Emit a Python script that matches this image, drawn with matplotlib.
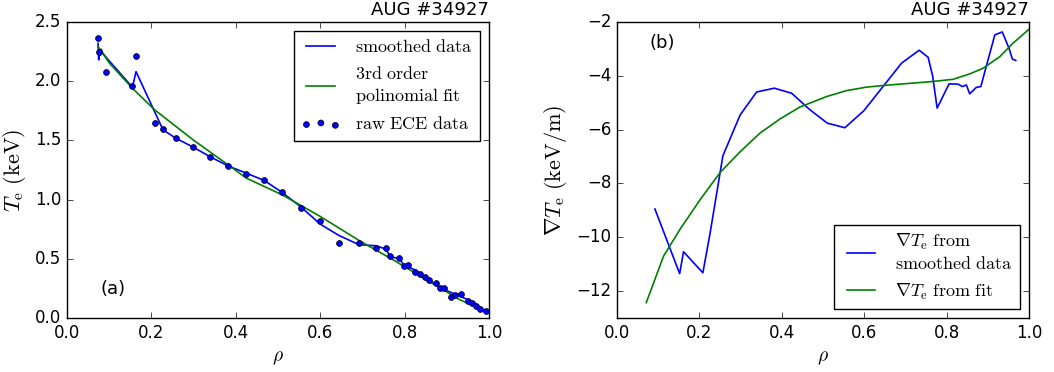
import matplotlib
matplotlib.use("Agg")
import matplotlib.pyplot as plt

plt.style.use("classic")
plt.rcParams["mathtext.fontset"] = "cm"
plt.rcParams["figure.facecolor"] = "white"
plt.rcParams["savefig.facecolor"] = "white"

# raw ECE profile
rho_raw = [0.0735, 0.076, 0.093, 0.155, 0.1635, 0.208, 0.2275, 0.258, 0.299, 0.340,
           0.3815, 0.425, 0.4676, 0.510, 0.555, 0.600, 0.6445, 0.692, 0.733, 0.755,
           0.765, 0.787, 0.798, 0.808, 0.824, 0.836, 0.848, 0.858, 0.874, 0.883,
           0.893, 0.911, 0.919, 0.934, 0.950, 0.960, 0.970, 0.9795, 0.992]
te_raw = [2.362, 2.244, 2.081, 1.96, 2.213, 1.651, 1.600, 1.518, 1.443, 1.358,
          1.285, 1.218, 1.167, 1.060, 0.928, 0.8155, 0.633, 0.633, 0.59, 0.59,
          0.52, 0.503, 0.436, 0.45, 0.385, 0.374, 0.346, 0.323, 0.295, 0.253,
          0.253, 0.174, 0.197, 0.205, 0.141, 0.127, 0.104, 0.076, 0.056]

# smoothed profile
rho_sm = [0.0735, 0.075, 0.077, 0.079, 0.081, 0.084, 0.093, 0.155, 0.1635, 0.2275,
          0.258, 0.299, 0.340, 0.3815, 0.425, 0.4676, 0.510, 0.555, 0.600, 0.6445,
          0.692, 0.733, 0.755, 0.767, 0.787, 0.800, 0.824, 0.848, 0.874, 0.895,
          0.922, 0.950, 0.974, 0.998]
te_sm = [2.32, 2.18, 2.26, 2.22, 2.27, 2.24, 2.20, 1.949, 2.081, 1.589,
         1.518, 1.443, 1.36, 1.285, 1.223, 1.161, 1.06, 0.936, 0.793, 0.697,
         0.619, 0.610, 0.582, 0.515, 0.503, 0.44, 0.408, 0.35, 0.281, 0.239,
         0.197, 0.155, 0.104, 0.042]

# cubic fit of the profile
rho_fit = [0.0735, 0.101, 0.155, 0.208, 0.299, 0.3815, 0.425, 0.510, 0.600, 0.692,
           0.7725, 0.8515, 0.9305, 1.0]
te_fit = [2.292, 2.15, 1.94, 1.757, 1.504, 1.294, 1.181, 1.04, 0.858, 0.655,
          0.492, 0.323, 0.155, 0.042]

# gradient from smoothed data
rho_gsm = [0.092, 0.152, 0.1615, 0.2084, 0.226, 0.257, 0.299, 0.339, 0.382, 0.424,
           0.468, 0.5105, 0.553, 0.599, 0.6446, 0.6906, 0.7334, 0.755, 0.766, 0.777,
           0.806, 0.828, 0.838, 0.848, 0.856, 0.872, 0.883, 0.917, 0.935, 0.9515,
           0.9596, 0.9677]
grad_sm = [-8.95, -11.35, -10.54, -11.32, -9.84, -6.97, -5.45, -4.60, -4.46, -4.65,
           -5.26, -5.76, -5.93, -5.30, -4.42, -3.53, -3.05, -3.31, -4.00, -5.20,
           -4.30, -4.31, -4.40, -4.34, -4.67, -4.43, -4.40, -2.48, -2.37, -2.98,
           -3.38, -3.43]

# gradient from the fit
rho_gfit = [0.071, 0.113, 0.1535, 0.2019, 0.2504, 0.299, 0.347, 0.396, 0.444, 0.509,
            0.557, 0.606, 0.654, 0.719, 0.767, 0.816, 0.856, 0.8885, 0.929, 0.961, 1.0]
grad_fit = [-12.43, -10.70, -9.69, -8.60, -7.59, -6.82, -6.13, -5.60, -5.16, -4.77,
            -4.55, -4.42, -4.35, -4.27, -4.21, -4.13, -3.93, -3.72, -3.29, -2.79, -2.27]

fig = plt.figure(figsize=(10.54, 3.72), dpi=100)
ax1 = fig.add_axes([0.0636, 0.1452, 0.4003, 0.7957])
ax2 = fig.add_axes([0.5854, 0.1452, 0.3909, 0.7957])

ax1.plot(rho_sm, te_sm, color="b", lw=1.2, label=r"$\mathrm{smoothed\ data}$")
ax1.plot(rho_fit, te_fit, color="g", lw=1.2,
         label="$\\mathrm{3rd\\ order}$\n$\\mathrm{polinomial\\ fit}$")
ax1.scatter(rho_raw, te_raw, s=18, c="b", edgecolors="k", linewidths=0.5, zorder=3,
            label=r"$\mathrm{raw\ ECE\ data}$")
ax1.set_xlim(0, 1)
ax1.set_ylim(0, 2.5)
ax1.set_xlabel(r"$\rho$", fontsize=14)
ax1.set_ylabel(r"$T_\mathrm{e}\ (\mathrm{keV})$", fontsize=16)
ax1.set_title("AUG #34927", loc="right", fontsize=13)
ax1.text(0.08, 0.245, "(a)", fontsize=13, va="center")
ax1.legend(loc="upper right", fontsize=13, handlelength=2.2)

ax2.plot(rho_gsm, grad_sm, color="b", lw=1.2,
         label="$\\nabla T_\\mathrm{e}\\ \\mathrm{from}$\n$\\mathrm{smoothed\\ data}$")
ax2.plot(rho_gfit, grad_fit, color="g", lw=1.2,
         label=r"$\nabla T_\mathrm{e}\ \mathrm{from\ fit}$")
ax2.set_xlim(0, 1)
ax2.set_ylim(-13, -2)
ax2.set_xlabel(r"$\rho$", fontsize=14)
ax2.set_ylabel(r"$\nabla T_\mathrm{e}\ (\mathrm{keV/m})$", fontsize=16)
ax2.set_title("AUG #34927", loc="right", fontsize=13)
ax2.text(0.08, -2.77, "(b)", fontsize=13, va="center")
ax2.legend(loc="lower right", fontsize=13, handlelength=2.2)

fig.savefig("out.png", dpi=100)
